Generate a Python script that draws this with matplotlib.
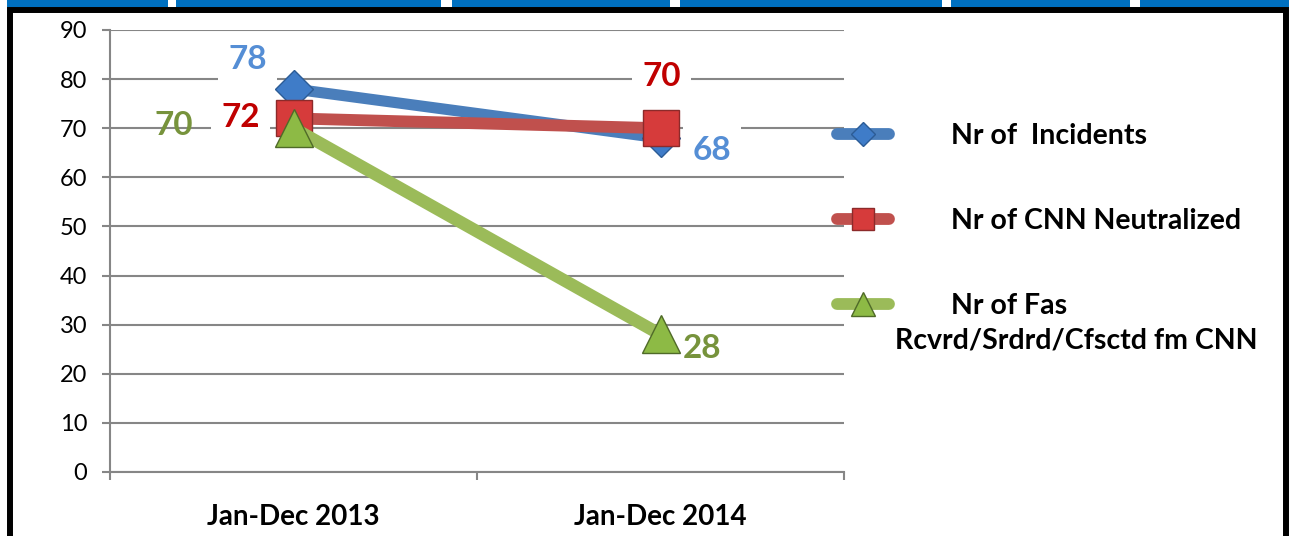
import matplotlib
matplotlib.use("Agg")
import matplotlib.pyplot as plt
from matplotlib.lines import Line2D
from matplotlib.patches import Rectangle

# ---- data ----
categories = ["Jan-Dec 2013", "Jan-Dec 2014"]
incidents = [78, 68]
neutralized = [72, 70]
fas = [70, 28]
series_names = ["Nr of  Incidents", "Nr of CNN Neutralized", "Nr of Fas"]
fas_second_line = "Rcvrd/Srdrd/Cfsctd fm CNN"
y_ticks = [0, 10, 20, 30, 40, 50, 60, 70, 80, 90]

W, H = 1289, 536
fig = plt.figure(figsize=(W / 100, H / 100), dpi=100, facecolor='white')
plt.rcParams['font.family'] = ['Lato', 'DejaVu Sans']

def fx(px):
    return px / W

def fy(py):
    return 1 - py / H

# decorative top strip and border
for x0, x1 in [(7, 168), (176, 441), (452, 670), (680, 942), (951, 1130), (1140, 1289)]:
    fig.patches.append(Rectangle((fx(x0), fy(7)), fx(x1 - x0), 7 / H, transform=fig.transFigure,
                                 facecolor='#0070C0', edgecolor='none', zorder=-2))
fig.patches.append(Rectangle((fx(9.5), -0.1), fx(1286 - 9.5), fy(10) + 0.1, transform=fig.transFigure,
                             facecolor='none', edgecolor='black', linewidth=4.3, zorder=-1))

ax = fig.add_axes([fx(110), 1 - 472 / H, fx(844 - 110), (472 - 30) / H])
ax.set_facecolor('none')
xs = list(range(len(categories)))
ax.set_xlim(-0.5, len(categories) - 0.5)
ax.set_ylim(0, 90)

grid_c = '#868686'
ax.set_yticks(y_ticks)
ax.yaxis.grid(True, color=grid_c, linewidth=1.5)
ax.set_axisbelow(True)
for s in ['top', 'right']:
    ax.spines[s].set_visible(False)
for s in ['left', 'bottom']:
    ax.spines[s].set_color(grid_c)
    ax.spines[s].set_linewidth(1.5)
ax.tick_params(axis='y', length=5.5, width=1.5, color=grid_c, pad=11, labelsize=17)
ax.set_xticks(xs)
ax.set_xticklabels(categories, fontsize=20, fontweight='bold')
ax.set_xticks([-0.5, 0.5, 1.5], minor=True)
ax.tick_params(axis='x', which='major', length=0, pad=23)
ax.tick_params(axis='x', which='minor', length=6, width=1.5, color=grid_c)

c_blue_line = '#4A7EBB'
c_red_line = '#C0504D'
c_green_line = '#9BBB59'

ax.plot(xs, incidents, color=c_blue_line, linewidth=8, marker='D', markersize=19,
        markerfacecolor='#3F7CC8', markeredgecolor='#2C5C96', markeredgewidth=1, zorder=3,
        solid_capstyle='butt')
ax.plot(xs, neutralized, color=c_red_line, linewidth=8.5, marker='s', markersize=26,
        markerfacecolor='#D63B3B', markeredgecolor='#8C2A2A', markeredgewidth=1, zorder=4,
        solid_capstyle='butt')
ax.plot(xs, fas, color=c_green_line, linewidth=9, marker='^', markersize=27,
        markerfacecolor='#8DBA45', markeredgecolor='#4F6A28', markeredgewidth=1, zorder=5,
        solid_capstyle='butt')

lab_blue = '#558ED5'
lab_red = '#C00000'
lab_green = '#77933C'
box = dict(boxstyle='square,pad=0.3', facecolor='white', edgecolor='none')

def label(x, y, text, color, dx, dy, bbox=True):
    ax.annotate(text, (x, y), xytext=(dx, dy), textcoords='offset points', ha='center',
                va='center', fontsize=24, fontweight='bold', color=color,
                bbox=box if bbox else None, zorder=6)

label(0, incidents[0], str(incidents[0]), lab_blue, -33, 21)
label(1, incidents[1], str(incidents[1]), lab_blue, 37, -9)
label(0, neutralized[0], str(neutralized[0]), lab_red, -38, 1)
label(1, neutralized[1], str(neutralized[1]), lab_red, 0.7, 37)
label(0, fas[0], str(fas[0]), lab_green, -86, 2, bbox=False)
label(1, fas[1], str(fas[1]), lab_green, 30, -10, bbox=False)

handles = [
    Line2D([], [], color=c_blue_line, linewidth=8.5, solid_capstyle='round', marker='D', markersize=12,
           markerfacecolor='#3F7CC8', markeredgecolor='#2C5C96'),
    Line2D([], [], color=c_red_line, linewidth=8.5, solid_capstyle='round', marker='s', markersize=16,
           markerfacecolor='#D63B3B', markeredgecolor='#8C2A2A'),
    Line2D([], [], color=c_green_line, linewidth=8.5, solid_capstyle='round', marker='^', markersize=17,
           markerfacecolor='#8DBA45', markeredgecolor='#4F6A28'),
]
leg = fig.legend(handles, series_names, loc='upper left', bbox_to_anchor=(fx(837), fy(123)),
                 frameon=False, prop={'size': 20.5, 'weight': 'bold'}, handlelength=1.82,
                 handletextpad=2.2, labelspacing=2.08, borderpad=0, borderaxespad=0)
fig.text(fx(895), fy(341), fas_second_line, ha='left', va='center', fontsize=20.5, fontweight='bold')

fig.savefig('out.png', dpi=100)
